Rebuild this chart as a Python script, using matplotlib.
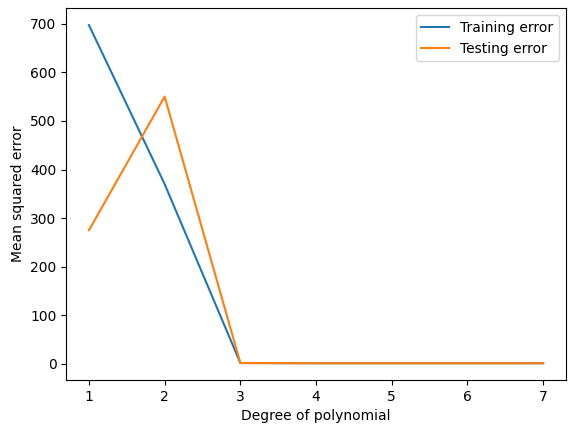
import matplotlib
matplotlib.use("Agg")
import matplotlib.pyplot as plt

degrees = [1, 2, 3, 4, 5, 6, 7]
train_err = [697, 370, 2, 1.5, 1.5, 1.5, 1.5]
test_err = [275, 550, 2, 1.5, 1.5, 1.5, 1.5]

fig, ax = plt.subplots(figsize=(5.71, 4.32), dpi=100)
ax.plot(degrees, train_err, label="Training error")
ax.plot(degrees, test_err, label="Testing error")
ax.set_xlabel("Degree of polynomial")
ax.set_ylabel("Mean squared error")
ax.legend()
fig.subplots_adjust(left=0.116, right=0.991, top=0.981, bottom=0.12)
plt.savefig("out.png", dpi=100)
